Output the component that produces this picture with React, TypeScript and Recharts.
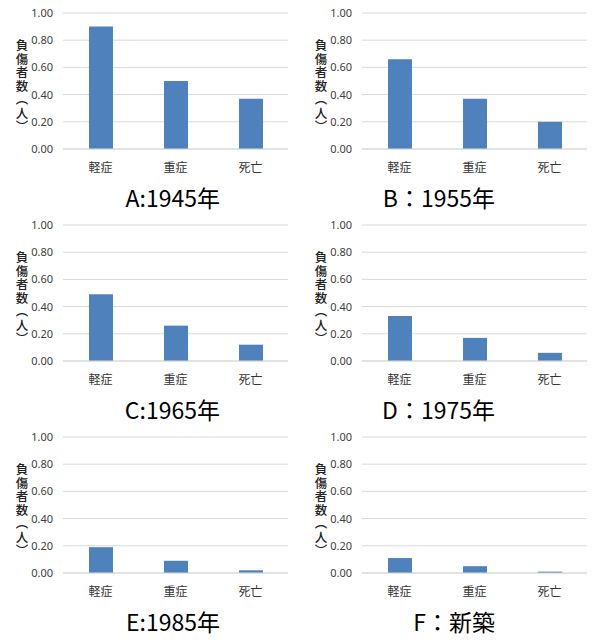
import { BarChart, Bar, XAxis, YAxis, CartesianGrid, Label } from "recharts"

const categories = ["軽症", "重症", "死亡"]
const titles = ["A:1945年", "B：1955年", "C:1965年", "D：1975年", "E:1985年", "F：新築"]
const valuesA = [0.9, 0.5, 0.37]
const valuesB = [0.66, 0.37, 0.2]
const valuesC = [0.49, 0.26, 0.12]
const valuesD = [0.33, 0.17, 0.06]
const valuesE = [0.19, 0.09, 0.02]
const valuesF = [0.11, 0.05, 0.01]
const yTicks = [0, 0.2, 0.4, 0.6, 0.8, 1]
const yLabel = "負傷者数（人）"

const series = [valuesA, valuesB, valuesC, valuesD, valuesE, valuesF]

const JP = "'Noto Sans CJK JP', 'Noto Sans', sans-serif"

// axis title set vertically, top to bottom
function VerticalLabel(props: any) {
  const vb = props.viewBox || {}
  const cy = vb.y + vb.height / 2
  return (
    <text
      x={22}
      y={cy - 42}
      textAnchor="start"
      fontSize={12.5}
      fontWeight={500}
      fill="#222"
      fontFamily={JP}
      style={{ writingMode: "vertical-rl", letterSpacing: "1px" } as any}
    >
      {yLabel}
    </text>
  )
}

function Panel({ values, title, left, top, titleRight }: { values: number[]; title: string; left: number; top: number; titleRight: number }) {
  const data = categories.map((c, i) => ({ name: c, value: values[i] }))
  return (
    <div style={{ position: "absolute", left, top, width: 297, height: 212 }}>
      <BarChart width={297} height={180} data={data} margin={{ top: 13, right: 9, bottom: 0, left: 0 }}>
        <CartesianGrid vertical={false} stroke="#d9d9d9" />
        <XAxis
          dataKey="name"
          height={31}
          tickLine={false}
          tickSize={0}
          tickMargin={14}
          axisLine={{ stroke: "#d9d9d9" }}
          tick={{ fontSize: 12, fill: "#333", fontFamily: JP }}
        />
        <YAxis
          width={63}
          domain={[0, 1]}
          ticks={yTicks}
          interval={0}
          tickFormatter={(v: number) => v.toFixed(2)}
          axisLine={false}
          tickLine={false}
          tickSize={0}
          tickMargin={10}
          tick={{ fontSize: 11, fill: "#404040", fontFamily: "'Noto Sans', sans-serif" }}
        >
          <Label content={<VerticalLabel />} />
        </YAxis>
        <Bar dataKey="value" fill="#4f81bd" barSize={24} isAnimationActive={false} />
      </BarChart>
      <div
        style={{
          position: "absolute",
          top: 186,
          right: 297 - titleRight,
          fontSize: 23,
          lineHeight: "23px",
          fontFamily: JP,
          color: "#000",
          whiteSpace: "nowrap",
        }}
      >
        {title}
      </div>
    </div>
  )
}

export default function App() {
  return (
    <div style={{ position: "absolute", left: 0, top: 0, width: 597, height: 641, background: "#fff" }}>
      {series.map((vals, i) => (
        <Panel
          key={i}
          values={vals}
          title={titles[i]}
          left={i % 2 === 0 ? 0 : 299}
          top={Math.floor(i / 2) * 212}
          titleRight={i % 2 === 0 ? 220 : 196}
        />
      ))}
    </div>
  )
}
